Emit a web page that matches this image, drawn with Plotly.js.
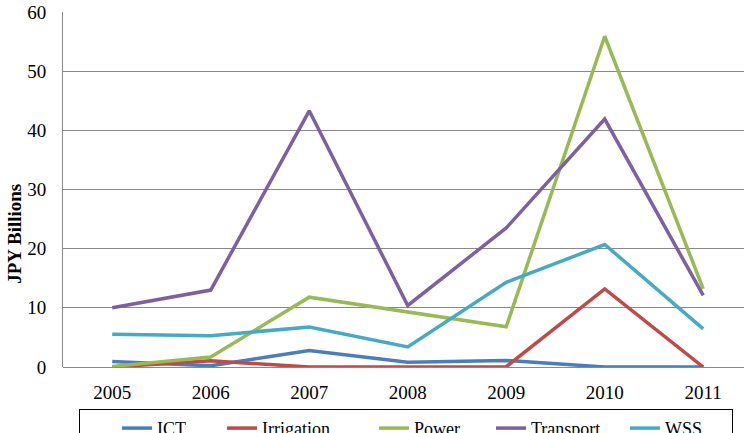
<!DOCTYPE html>
<html>
<head>
<meta charset="utf-8">
<script src="https://cdn.plot.ly/plotly-3.0.1.min.js"></script>
<style>html,body{margin:0;padding:0;background:#fff;}#chart{width:744px;height:433px;}</style>
</head>
<body>
<div id="chart"></div>
<script>
const years = ["2005", "2006", "2007", "2008", "2009", "2010", "2011"];
const ict = [0.95, 0.2, 2.8, 0.8, 1.1, 0, 0];
const irrigation = [0, 1.05, 0, 0, 0.05, 13.2, 0];
const power = [0.1, 1.7, 11.8, 9.3, 6.8, 55.9, 13.2];
const transport = [10.0, 13.0, 43.3, 10.4, 23.5, 41.9, 12.1];
const wss = [5.55, 5.3, 6.75, 3.4, 14.3, 20.7, 6.45];
const yTicks = [0, 10, 20, 30, 40, 50, 60];
const yTitle = "JPY Billions";

const names = ["ICT", "Irrigation", "Power", "Transport", "WSS"];
const series = [ict, irrigation, power, transport, wss];
const colors = ["#4a7ebb", "#be4b48", "#98b954", "#7d60a0", "#46aac5"];
const legendWidths = [60, 107, 72, 89, 62];

const FONT = "Liberation Serif";

const traces = series.map((s, i) => ({
  type: "scatter",
  mode: "lines",
  x: years,
  y: s,
  name: names[i],
  line: {color: colors[i], width: 3.5},
  legendwidth: legendWidths[i]
}));

const layout = {
  width: 744,
  height: 433,
  margin: {l: 63, r: 0, t: 12, b: 66, autoexpand: false},
  paper_bgcolor: "#ffffff",
  plot_bgcolor: "#ffffff",
  font: {family: FONT, size: 19, color: "#000000"},
  showlegend: true,
  legend: {
    orientation: "h",
    x: 0.0235,
    xanchor: "left",
    y: -0.118,
    yanchor: "top",
    bordercolor: "#000000",
    borderwidth: 1,
    bgcolor: "rgba(255,255,255,0)",
    font: {family: FONT, size: 18, color: "#000000"},
    title: {text: "\u00a0\u00a0\u00a0\u00a0\u00a0\u00a0", side: "left", font: {family: FONT, size: 18}}
  },
  xaxis: {
    type: "category",
    range: [-0.5, 6.414],
    showgrid: false,
    showline: false,
    zeroline: false,
    ticks: "",
    tickfont: {family: FONT, size: 19, color: "#000000"},
    ticklabelstandoff: 12
  },
  yaxis: {
    range: [0, 60],
    tickvals: yTicks,
    ticktext: yTicks.map(String),
    showgrid: true,
    gridcolor: "#8c8888",
    gridwidth: 1,
    showline: true,
    linecolor: "#8c8888",
    linewidth: 1,
    zeroline: true,
    zerolinecolor: "#8c8888",
    zerolinewidth: 1,
    ticks: "",
    tickfont: {family: FONT, size: 19, color: "#000000"},
    ticklabelstandoff: 12
  },
  annotations: [{
    text: "<b>" + yTitle + "</b>",
    xref: "paper", yref: "paper",
    x: -0.0705, y: 0.375,
    xanchor: "center", yanchor: "middle",
    textangle: -90,
    showarrow: false,
    font: {family: FONT, size: 19, color: "#000000"}
  }]
};

Plotly.newPlot("chart", traces, layout, {displayModeBar: false, staticPlot: true});
</script>
</body>
</html>
